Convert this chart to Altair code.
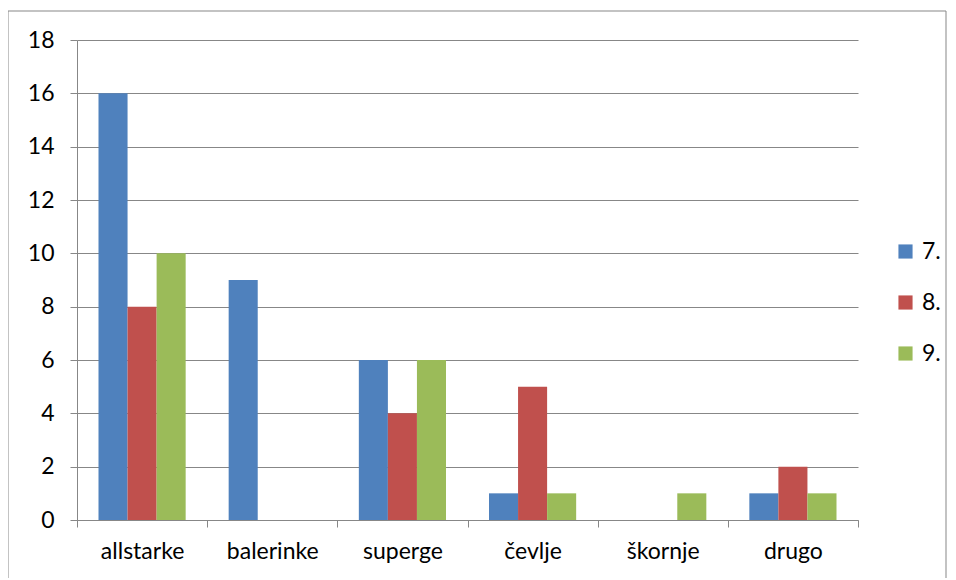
import altair as alt
import pandas as pd

categories = ["allstarke", "balerinke", "superge", "čevlje", "škornje", "drugo"]
series = ["7.", "8.", "9."]
values_7 = [16, 9, 6, 1, 0, 1]
values_8 = [8, 0, 4, 5, 0, 2]
values_9 = [10, 0, 6, 1, 1, 1]
colors = ["#4F81BD", "#C0504D", "#9BBB59"]

rows = []
for s, vals in zip(series, [values_7, values_8, values_9]):
    for c, v in zip(categories, vals):
        rows.append({"kategorija": c, "razred": s, "vrednost": v})
df = pd.DataFrame(rows)

FONT = "Lato"
FS = 23
W, H = 781, 480

bars = alt.Chart(df).mark_bar().encode(
    x=alt.X("kategorija:N", sort=categories, title=None,
            scale=alt.Scale(paddingInner=0, paddingOuter=0),
            axis=alt.Axis(labelAngle=0, tickBand="extent", tickSize=7,
                          labelPadding=13, domainColor="#878787", tickColor="#878787",
                          labelFontSize=FS, labelFont=FONT, labelColor="#000000",
                          grid=False)),
    xOffset=alt.XOffset("razred:N", sort=series,
                        scale=alt.Scale(paddingInner=0, paddingOuter=0.74)),
    y=alt.Y("vrednost:Q", title=None,
            scale=alt.Scale(domain=[0, 18], nice=False),
            axis=alt.Axis(values=list(range(0, 19, 2)), tickSize=7, labelPadding=16,
                          domainColor="#878787", tickColor="#878787",
                          gridColor="#878787", gridWidth=1,
                          labelFontSize=FS, labelFont=FONT, labelColor="#000000")),
    color=alt.Color("razred:N", sort=series,
                    scale=alt.Scale(domain=series, range=colors),
                    legend=alt.Legend(title=None, orient="none", legendX=817, legendY=200,
                                      symbolType="square", symbolSize=200,
                                      symbolStrokeWidth=0, labelFontSize=FS,
                                      labelFont=FONT, labelColor="#000000",
                                      rowPadding=27, labelOffset=5)),
)

frame = alt.Chart(pd.DataFrame({"a": [0]})).mark_rect(
    fill=None, stroke="#878787", strokeWidth=1, clip=False
).encode(
    x=alt.value(-69), x2=alt.value(869), y=alt.value(-29), y2=alt.value(600)
)

chart = alt.layer(frame, bars).properties(
    width=W, height=H,
    autosize=alt.AutoSizeParams(type="none"),
    padding={"left": 69, "top": 32, "right": 90, "bottom": 58},
).configure_view(stroke=None)

chart.save("out.html", embed_options={"renderer": "svg", "actions": False})
